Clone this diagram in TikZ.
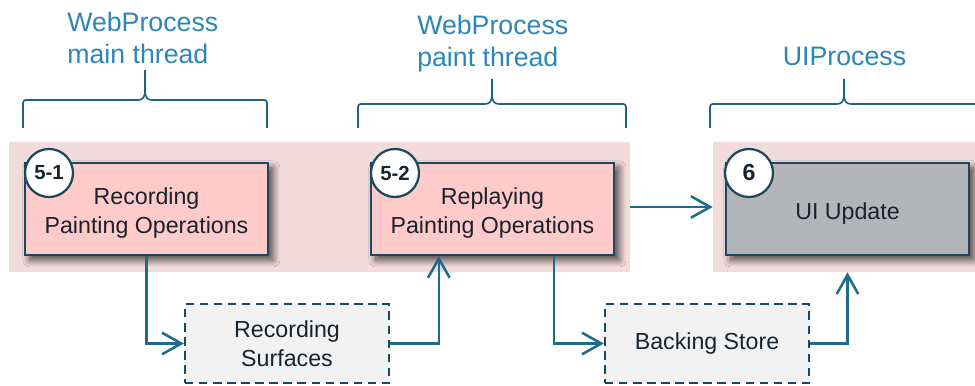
\documentclass[tikz,border=0pt]{standalone}
\usepackage{fontspec}
\setmainfont{Liberation Sans}
\usetikzlibrary{arrows.meta,shadows.blur}
\definecolor{lanebg}{HTML}{F2DCDB}
\definecolor{stagebg}{HTML}{FFCACA}
\definecolor{uibg}{HTML}{B3B5B9}
\definecolor{bufbg}{HTML}{F2F2F2}
\definecolor{navy}{HTML}{1B4861}
\definecolor{flowblue}{HTML}{1E6B8C}
\definecolor{titleblue}{HTML}{2C86B6}
\definecolor{ink}{HTML}{18232D}
\tikzset{
  >={Straight Barb[length=4.8mm,width=5.4mm]},
  every node/.style={text=ink},
  lane/.style={fill=lanebg,draw=none,inner sep=0pt},
  stage/.style={draw=navy,line width=1.4pt,fill=stagebg,align=center,minimum width=6.075cm,minimum height=2.3cm,inner sep=0pt,font=\fontsize{16.5}{20.5}\selectfont,blur shadow={shadow xshift=3.5pt,shadow yshift=-3.5pt,shadow blur radius=5pt,shadow blur steps=10,shadow opacity=70}},
  uistage/.style={stage,fill=uibg},
  badge/.style={circle,draw=navy,line width=1.6pt,fill=white,minimum size=1.2cm,inner sep=0pt,font=\bfseries\fontsize{14.5}{16}\selectfont},
  buffer/.style={draw=navy,line width=1.6pt,dash pattern=on 6pt off 4pt,fill=bufbg,align=center,minimum width=5.1cm,minimum height=1.975cm,inner sep=0pt,font=\fontsize{16.5}{20.5}\selectfont},
  flow/.style={->,line width=1.8pt,draw=flowblue},
  title/.style={text=titleblue,align=left,inner sep=0pt,font=\fontsize{19}{22.7}\selectfont},
  brace/.style={draw=flowblue!80!navy,line width=1.2pt}
}
\begin{document}
\begin{tikzpicture}[x=0.025cm,y=-0.025cm]
  \useasboundingbox (0,0) rectangle (975,386);
  % process lanes
  \node[lane,minimum width=15.525cm,minimum height=3.25cm] (webLane) at (319.5,207) {};
  \node[lane,minimum width=6.55cm,minimum height=3.25cm] (uiLane) at (844,207) {};
  % braces over the threads
  \foreach \l/\m/\r/\b/\t in {23/145/267/100/70,358/492/626/104/79,710/844/990/104/79} {
    \draw[brace] (\l,128) -- (\l,\b+6) .. controls (\l,\b) .. (\l+6,\b) -- (\m-7,\b) .. controls (\m-2,\b) and (\m,\b-3) .. (\m,\b-10) -- (\m,\t);
    \draw[brace] (\r,128) -- (\r,\b+6) .. controls (\r,\b) .. (\r-6,\b) -- (\m+7,\b) .. controls (\m+2,\b) and (\m,\b-3) .. (\m,\b-10);
  }
  \node[title,anchor=north west] (tMain) at (67,12) {WebProcess\\main thread};
  \node[title,anchor=north west] (tPaint) at (417,15) {WebProcess\\paint thread};
  \node[title,anchor=north] (tUI) at (844.5,47) {UIProcess};
  % stages
  \node[stage] (record) at (146.5,209) {\rule{0pt}{6.3mm}Recording\\Painting Operations};
  \node[stage] (replay) at (492.5,209) {\rule{0pt}{6.3mm}Replaying\\Painting Operations};
  \node[uistage] (uiupdate) at (847.5,209) {\rule{0pt}{6.3mm}UI Update};
  \node[badge] (b51) at (49,173) {5-1};
  \node[badge] (b52) at (395,173) {5-2};
  \node[badge,font=\bfseries\fontsize{16.5}{18}\selectfont] (b6) at (749,173) {6};
  % buffers
  \node[buffer] (surfaces) at (287,343.5) {Recording\\Surfaces};
  \node[buffer] (backing) at (707,343.5) {Backing Store};
  % flow
  \draw[flow] (record.south) |- (surfaces.west);
  \draw[flow] (surfaces.east) -| ([xshift=1.72cm]replay.south west);
  \draw[flow] ([xshift=-1.52cm]replay.south east) |- (backing.west);
  \draw[flow] (backing.east) -| (uiupdate.south |- uiLane.south);
  \draw[flow] (webLane.east) -- (uiLane.west);
\end{tikzpicture}
\end{document}
